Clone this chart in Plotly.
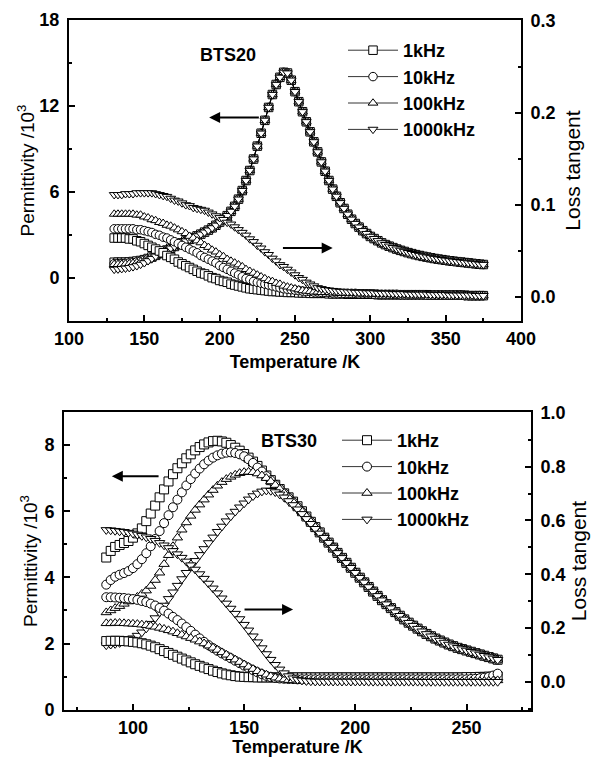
import plotly.graph_objects as go

# ---------------- BTS20 (top panel) ----------------
T_top = [130, 132.5, 135, 137.5, 140, 142.5, 145, 147.5, 150, 152.5,
         155, 157.5, 160, 162.5, 165, 167.5, 170, 172.5, 175, 177.5,
         180, 182.5, 185, 187.5, 190, 192.5, 195, 197.5, 200, 202.5,
         205, 207.5, 210, 212.5, 215, 217.5, 220, 222.5, 225, 227.5,
         230, 232.5, 235, 237.5, 240, 242.5, 245, 247.5, 250, 252.5,
         255, 257.5, 260, 262.5, 265, 267.5, 270, 272.5, 275, 277.5,
         280, 282.5, 285, 287.5, 290, 292.5, 295, 297.5, 300, 302.5,
         305, 307.5, 310, 312.5, 315, 317.5, 320, 322.5, 325, 327.5,
         330, 332.5, 335, 337.5, 340, 342.5, 345, 347.5, 350, 352.5,
         355, 357.5, 360, 362.5, 365, 367.5, 370, 372.5, 375]

# permittivity (10^3), low-temperature parts (130-157.5 K) per frequency
eps20_1k_low = [1.10, 1.10, 1.10, 1.10, 1.12, 1.15, 1.18, 1.22, 1.28, 1.36, 1.46, 1.58]
eps20_10k_low = [1.00, 1.00, 1.00, 1.02, 1.05, 1.08, 1.12, 1.17, 1.24, 1.33, 1.44, 1.57]
eps20_100k_low = [0.95, 0.95, 0.96, 0.98, 1.00, 1.03, 1.07, 1.13, 1.20, 1.30, 1.42, 1.56]
eps20_1000k_low = [0.60, 0.62, 0.65, 0.68, 0.72, 0.78, 0.85, 0.95, 1.06, 1.20, 1.36, 1.52]
# common part (160-375 K), all frequencies coincide
eps20_common = [1.70, 1.82, 1.95, 2.08, 2.20, 2.33, 2.45, 2.58,
                2.70, 2.82, 2.94, 3.06, 3.20, 3.34, 3.50, 3.68, 3.90, 4.10,
                4.35, 4.65, 5.00, 5.50, 6.10, 6.80, 7.50, 8.30, 9.20, 10.1,
                11.0, 11.9, 12.8, 13.5, 14.0, 14.35, 14.3, 13.8, 13.0, 12.3,
                11.6, 10.9, 10.2, 9.5, 8.8, 8.1, 7.45, 6.8, 6.2, 5.7,
                5.25, 4.85, 4.45, 4.10, 3.80, 3.55, 3.30, 3.10, 2.90, 2.75,
                2.60, 2.45, 2.33, 2.22, 2.12, 2.02, 1.93, 1.85, 1.77, 1.70,
                1.63, 1.57, 1.51, 1.46, 1.41, 1.36, 1.32, 1.28, 1.24, 1.20,
                1.17, 1.14, 1.11, 1.08, 1.05, 1.02, 0.99, 0.96, 0.94]

# loss tangent
tan20_1k = [0.064, 0.064, 0.064, 0.064, 0.063, 0.063, 0.061, 0.060, 0.058, 0.056,
            0.054, 0.052, 0.050, 0.048, 0.045, 0.043, 0.041, 0.038, 0.036, 0.034,
            0.032, 0.030, 0.028, 0.026, 0.025, 0.023, 0.021, 0.020, 0.018, 0.017,
            0.016, 0.014, 0.013, 0.012, 0.011, 0.010, 0.009, 0.0085, 0.008, 0.0075,
            0.007, 0.0065, 0.006, 0.006, 0.0055, 0.0055, 0.005, 0.005, 0.005, 0.0045,
            0.0045, 0.0045, 0.004, 0.004, 0.004, 0.004, 0.004, 0.0035, 0.0035, 0.0035,
            0.0035, 0.0035, 0.003, 0.003, 0.003, 0.003, 0.003, 0.003, 0.003, 0.003,
            0.0025, 0.0025, 0.0025, 0.0025, 0.0025, 0.0025, 0.0025, 0.0025, 0.0025, 0.0025,
            0.0025, 0.0025, 0.0025, 0.0025, 0.002, 0.002, 0.002, 0.002, 0.002, 0.002,
            0.002, 0.002, 0.002, 0.002, 0.0015, 0.0015, 0.0015, 0.0015, 0.0015]
tan20_10k = [0.074, 0.074, 0.074, 0.074, 0.074, 0.074, 0.073, 0.073, 0.072, 0.071,
             0.070, 0.068, 0.067, 0.065, 0.064, 0.062, 0.060, 0.058, 0.056, 0.054,
             0.052, 0.050, 0.048, 0.045, 0.043, 0.041, 0.039, 0.037, 0.034, 0.032,
             0.030, 0.028, 0.026, 0.024, 0.022, 0.020, 0.019, 0.017, 0.016, 0.015,
             0.014, 0.013, 0.012, 0.011, 0.010, 0.009, 0.0085, 0.008, 0.0075, 0.007,
             0.0065, 0.006, 0.006, 0.0055, 0.0055, 0.005, 0.005, 0.005, 0.0045, 0.0045,
             0.004, 0.004, 0.004, 0.004, 0.004, 0.0035, 0.0035, 0.0035, 0.0035, 0.003,
             0.003, 0.003, 0.003, 0.003, 0.003, 0.003, 0.0025, 0.0025, 0.0025, 0.0025,
             0.0025, 0.0025, 0.0025, 0.002, 0.002, 0.002, 0.002, 0.002, 0.002, 0.002,
             0.002, 0.002, 0.002, 0.0015, 0.0015, 0.0015, 0.0015, 0.0015, 0.0015]
tan20_100k = [0.090, 0.090, 0.090, 0.090, 0.090, 0.090, 0.089, 0.089, 0.087, 0.086,
              0.084, 0.083, 0.081, 0.080, 0.078, 0.077, 0.075, 0.073, 0.071, 0.069,
              0.066, 0.064, 0.061, 0.059, 0.056, 0.054, 0.051, 0.049, 0.046, 0.044,
              0.041, 0.039, 0.037, 0.035, 0.033, 0.030, 0.028, 0.026, 0.024, 0.022,
              0.020, 0.018, 0.017, 0.015, 0.014, 0.012, 0.011, 0.010, 0.009, 0.008,
              0.007, 0.0065, 0.006, 0.0055, 0.0055, 0.005, 0.005, 0.005, 0.0045, 0.0045,
              0.004, 0.004, 0.004, 0.004, 0.004, 0.0035, 0.0035, 0.0035, 0.0035, 0.003,
              0.003, 0.003, 0.003, 0.003, 0.003, 0.003, 0.0025, 0.0025, 0.0025, 0.0025,
              0.0025, 0.0025, 0.0025, 0.002, 0.002, 0.002, 0.002, 0.002, 0.002, 0.002,
              0.002, 0.002, 0.002, 0.0015, 0.0015, 0.0015, 0.0015, 0.0015, 0.0015]
tan20_1000k = [0.111, 0.111, 0.111, 0.112, 0.112, 0.112, 0.113, 0.113, 0.113, 0.113,
               0.113, 0.112, 0.111, 0.110, 0.109, 0.107, 0.105, 0.104, 0.102, 0.100,
               0.099, 0.097, 0.096, 0.095, 0.094, 0.092, 0.090, 0.088, 0.086, 0.084,
               0.081, 0.079, 0.076, 0.073, 0.070, 0.067, 0.063, 0.060, 0.056, 0.053,
               0.049, 0.046, 0.042, 0.039, 0.035, 0.033, 0.030, 0.027, 0.024, 0.021,
               0.019, 0.016, 0.014, 0.012, 0.010, 0.009, 0.008, 0.0075, 0.007, 0.0065,
               0.006, 0.006, 0.0055, 0.0055, 0.005, 0.005, 0.005, 0.0045, 0.0045, 0.0045,
               0.004, 0.004, 0.004, 0.004, 0.0035, 0.0035, 0.0035, 0.0035, 0.003, 0.003,
               0.003, 0.003, 0.003, 0.003, 0.0025, 0.0025, 0.0025, 0.0025, 0.0025, 0.002,
               0.002, 0.002, 0.002, 0.002, 0.002, 0.002, 0.0015, 0.0015, 0.0015]

# ---------------- BTS30 (bottom panel) ----------------
T_bot = [88, 90, 92, 94, 96, 98, 100, 102, 104, 106,
         108, 110, 112, 114, 116, 118, 120, 122, 124, 126,
         128, 130, 132, 134, 136, 138, 140, 142, 144, 146,
         148, 150, 152, 154, 156, 158, 160, 162, 164, 166,
         168, 170, 172, 174, 176, 178, 180, 182, 184, 186,
         188, 190, 192, 194, 196, 198, 200, 202, 204, 206,
         208, 210, 212, 214, 216, 218, 220, 222, 224, 226,
         228, 230, 232, 234, 236, 238, 240, 242, 244, 246,
         248, 250, 252, 254, 256, 258, 260, 262, 264]

eps30_1k_low = [4.60, 4.80, 4.92, 4.98, 5.04, 5.10, 5.20, 5.33, 5.48, 5.70,
                5.93, 6.17, 6.42, 6.66, 6.90, 7.12, 7.30, 7.45, 7.60, 7.72,
                7.84, 7.94, 8.02, 8.08, 8.12, 8.13, 8.11, 8.07, 8.00, 7.92,
                7.83, 7.73, 7.62, 7.50, 7.37, 7.23, 7.08, 6.94, 6.80, 6.67,
                6.54, 6.42, 6.29, 6.15, 6.00, 5.84, 5.68, 5.52, 5.36]
eps30_10k_low = [3.78, 3.92, 4.02, 4.08, 4.13, 4.19, 4.28, 4.40, 4.55, 4.73,
                 4.94, 5.16, 5.40, 5.64, 5.88, 6.12, 6.35, 6.57, 6.78, 6.97,
                 7.14, 7.29, 7.42, 7.53, 7.62, 7.69, 7.74, 7.77, 7.78, 7.76,
                 7.72, 7.66, 7.57, 7.46, 7.32, 7.20, 7.06, 6.93, 6.80, 6.67,
                 6.54, 6.41, 6.28, 6.13, 5.98, 5.83, 5.67, 5.51, 5.36]
eps30_100k_low = [2.94, 3.00, 3.07, 3.13, 3.20, 3.27, 3.33, 3.41, 3.50, 3.60,
                  3.74, 3.92, 4.14, 4.40, 4.67, 4.94, 5.20, 5.44, 5.66, 5.86,
                  6.04, 6.20, 6.35, 6.50, 6.64, 6.77, 6.88, 6.97, 7.04, 7.10,
                  7.15, 7.18, 7.19, 7.18, 7.14, 7.08, 7.00, 6.90, 6.79, 6.67,
                  6.55, 6.42, 6.29, 6.15, 6.00, 5.84, 5.68, 5.52, 5.36]
eps30_1000k_low = [1.95, 1.97, 1.99, 2.02, 2.06, 2.11, 2.16, 2.24, 2.34, 2.46,
                   2.60, 2.77, 2.95, 3.15, 3.35, 3.55, 3.75, 3.95, 4.14, 4.33,
                   4.50, 4.68, 4.86, 5.04, 5.21, 5.38, 5.54, 5.70, 5.85, 5.99,
                   6.12, 6.24, 6.36, 6.46, 6.54, 6.60, 6.63, 6.62, 6.58, 6.51,
                   6.42, 6.31, 6.19, 6.06, 5.92, 5.77, 5.62, 5.47, 5.33]
eps30_common = [5.20, 5.05, 4.90, 4.74, 4.59, 4.44, 4.29, 4.14, 3.99, 3.85,
                3.71, 3.57, 3.44, 3.31, 3.19, 3.07, 2.95, 2.84, 2.73, 2.63,
                2.54, 2.45, 2.37, 2.29, 2.22, 2.15, 2.09, 2.03, 1.97, 1.92,
                1.87, 1.83, 1.79, 1.75, 1.71, 1.67, 1.63, 1.59, 1.55, 1.51]

tan30_1k = [0.152, 0.153, 0.153, 0.153, 0.152, 0.151, 0.149, 0.147, 0.144, 0.140,
            0.135, 0.129, 0.122, 0.115, 0.108, 0.101, 0.094, 0.087, 0.080, 0.073,
            0.066, 0.060, 0.054, 0.048, 0.042, 0.037, 0.032, 0.028, 0.025, 0.022,
            0.020, 0.019, 0.018, 0.018, 0.017, 0.017, 0.017, 0.017, 0.017, 0.017,
            0.017, 0.017, 0.017, 0.017, 0.017, 0.017, 0.017,
            0.017, 0.017, 0.017, 0.017, 0.017, 0.017, 0.017, 0.017, 0.017, 0.017,
            0.017, 0.017, 0.017, 0.017, 0.017, 0.017, 0.017, 0.017, 0.017, 0.017,
            0.017, 0.017, 0.017, 0.017, 0.017, 0.017, 0.017, 0.017, 0.017, 0.017,
            0.017, 0.017, 0.017, 0.017, 0.018, 0.018, 0.018, 0.019, 0.019, 0.020,
            0.020, 0.021]
tan30_10k = [0.315, 0.315, 0.314, 0.313, 0.312, 0.310, 0.308, 0.305, 0.301, 0.297,
             0.291, 0.284, 0.275, 0.265, 0.254, 0.242, 0.230, 0.217, 0.204, 0.190,
             0.176, 0.162, 0.149, 0.137, 0.126, 0.116, 0.106, 0.097, 0.088, 0.079,
             0.070, 0.061, 0.052, 0.044, 0.036, 0.029, 0.023, 0.018, 0.015, 0.013,
             0.012, 0.011, 0.011, 0.010, 0.010, 0.010, 0.010,
             0.010, 0.010, 0.010, 0.010, 0.010, 0.010, 0.010, 0.010, 0.010, 0.010,
             0.010, 0.010, 0.010, 0.010, 0.010, 0.010, 0.010, 0.010, 0.010, 0.010,
             0.010, 0.010, 0.010, 0.010, 0.010, 0.010, 0.010, 0.010, 0.010, 0.010,
             0.010, 0.010, 0.010, 0.010, 0.010, 0.011, 0.012, 0.014, 0.016, 0.019,
             0.024, 0.031]
tan30_100k = [0.218, 0.218, 0.219, 0.219, 0.218, 0.217, 0.216, 0.215, 0.213, 0.211,
              0.208, 0.205, 0.201, 0.197, 0.192, 0.187, 0.181, 0.175, 0.169, 0.163,
              0.157, 0.150, 0.143, 0.135, 0.127, 0.119, 0.110, 0.101, 0.092, 0.083,
              0.074, 0.065, 0.056, 0.048, 0.040, 0.033, 0.027, 0.021, 0.016, 0.012,
              0.009, 0.007, 0.006, 0.005, 0.005, 0.004, 0.004,
              0.004, 0.004, 0.004, 0.004, 0.004, 0.004, 0.004, 0.004, 0.004, 0.004,
              0.004, 0.004, 0.004, 0.004, 0.0035, 0.0035, 0.0035, 0.0035, 0.0035, 0.0035,
              0.003, 0.003, 0.003, 0.003, 0.003, 0.003, 0.003, 0.003, 0.003, 0.003,
              0.003, 0.003, 0.003, 0.003, 0.003, 0.003, 0.003, 0.003, 0.0035, 0.004,
              0.005, 0.006]
tan30_1000k = [0.565, 0.564, 0.562, 0.560, 0.558, 0.555, 0.552, 0.548, 0.543, 0.538,
               0.532, 0.525, 0.517, 0.508, 0.498, 0.487, 0.475, 0.462, 0.448, 0.434,
               0.418, 0.401, 0.384, 0.366, 0.348, 0.330, 0.311, 0.292, 0.273, 0.254,
               0.234, 0.213, 0.192, 0.170, 0.148, 0.126, 0.104, 0.083, 0.064, 0.047,
               0.033, 0.022, 0.014, 0.009, 0.006, 0.004, 0.003,
               0.002, 0.002, 0.002, 0.002, 0.002, 0.002, 0.002, 0.002, 0.002, 0.002,
               0.002, 0.002, 0.0015, 0.0015, 0.0015, 0.0015, 0.0015, 0.0015, 0.0015, 0.0015,
               0.0015, 0.0015, 0.0015, 0.0015, 0.001, 0.001, 0.001, 0.001, 0.001, 0.001,
               0.001, 0.001, 0.001, 0.001, 0.001, 0.001, 0.001, 0.001, 0.001, 0.001,
               0.001, 0.001]

freq_labels = ["1kHz", "10kHz", "100kHz", "1000kHz"]
symbols = ["square", "circle", "triangle-up", "triangle-down"]

eps20 = [eps20_1k_low + eps20_common, eps20_10k_low + eps20_common,
         eps20_100k_low + eps20_common, eps20_1000k_low + eps20_common]
tan20 = [tan20_1k, tan20_10k, tan20_100k, tan20_1000k]
eps30 = [eps30_1k_low + eps30_common, eps30_10k_low + eps30_common,
         eps30_100k_low + eps30_common, eps30_1000k_low + eps30_common]
tan30 = [tan30_1k, tan30_10k, tan30_100k, tan30_1000k]

for s in eps20 + tan20:
    assert len(s) == len(T_top), len(s)
for s in eps30 + tan30:
    assert len(s) == len(T_bot), len(s)

W, H = 592, 757
FONT = "Liberation Sans, Arial, sans-serif"

fig = go.Figure()


def add(x, y, sym, name, xa, ya, size, legend, show):
    fig.add_trace(go.Scatter(
        x=x, y=y, mode="lines+markers", name=name,
        xaxis=xa, yaxis=ya, legend=legend, showlegend=show,
        legendgroup=legend + name,
        line=dict(color="black", width=0.8),
        marker=dict(symbol=sym, size=size, color="white",
                    line=dict(color="black", width=1)),
    ))


for i in range(4):
    add(T_top, tan20[i], symbols[i], freq_labels[i], "x", "y2", 8.5, "legend", False)
for i in range(4):
    add(T_top, eps20[i], symbols[i], freq_labels[i], "x", "y", 8.5, "legend", True)
for i in range(4):
    add(T_bot, tan30[i], symbols[i], freq_labels[i], "x2", "y4", 9, "legend2", False)
for i in range(4):
    add(T_bot, eps30[i], symbols[i], freq_labels[i], "x2", "y3", 9, "legend2", True)

tickfont = dict(family=FONT, size=18, color="black", weight="bold")
common = dict(showline=True, linecolor="black", linewidth=2, ticks="inside",
              ticklen=6, tickwidth=1.5, tickcolor="black", showgrid=False,
              zeroline=False, tickfont=tickfont, automargin=False)


def xax(domain, anchor, rng, standoff):
    return dict(domain=domain, anchor=anchor, range=rng, tick0=100, dtick=50,
                mirror=True, ticklabelstandoff=0,
                minor=dict(dtick=25, ticks="inside", ticklen=3, tickwidth=1.5,
                           tickcolor="black"),
                title=dict(text="Temperature /K", standoff=standoff,
                           font=dict(family=FONT, size=18, color="black", weight="bold")),
                **common)


def yax(domain, anchor, rng, dtick, mdtick, title, standoff, tsize, side="left",
        overlaying=None, fmt=None):
    d = dict(domain=domain, anchor=anchor, range=rng, tick0=0, dtick=dtick,
             side=side, ticklabelstandoff=4,
             minor=dict(dtick=mdtick, ticks="inside", ticklen=3, tickwidth=1.5,
                        tickcolor="black"),
             title=dict(text=title, standoff=standoff,
                        font=dict(family=FONT, size=tsize, color="black")),
             **common)
    if overlaying:
        d["overlaying"] = overlaying
    if fmt:
        d["tickformat"] = fmt
    return d


top_y = [1 - 321 / H, 1 - 20 / H]
bot_y = [1 - 710 / H, 1 - 412 / H]

fig.update_layout(
    width=W, height=H,
    margin=dict(l=0, r=0, t=0, b=0),
    paper_bgcolor="white", plot_bgcolor="white",
    font=dict(family=FONT, color="black"),
    xaxis=xax([69 / W, 521 / W], "y", [100, 400], 8),
    yaxis=yax(top_y, "x", [-3, 18], 6, 3, "Permittivity /10<sup>3</sup>", 0, 19),
    yaxis2=yax(top_y, "x", [-0.026, 0.3005], 0.1, 0.05, "Loss tangent", 11, 21,
               side="right", overlaying="y", fmt=".1f"),
    xaxis2=xax([64 / W, 531 / W], "y3", [69, 279], 14),
    yaxis3=yax(bot_y, "x2", [-0.01, 9], 2, 1, "Permittivity /10<sup>3</sup>", 2, 19),
    yaxis4=yax(bot_y, "x2", [-0.104, 1.003], 0.2, 0.1, "Loss tangent", 7, 21,
               side="right", overlaying="y3", fmt=".1f"),
    legend=dict(x=343 / W, y=1 - 32 / H, xanchor="left", yanchor="top",
                bgcolor="rgba(0,0,0,0)", itemwidth=50, traceorder="grouped",
                tracegroupgap=0,
                font=dict(family=FONT, size=18, color="black", weight="bold")),
    legend2=dict(x=337 / W, y=1 - 422 / H, xanchor="left", yanchor="top",
                 bgcolor="rgba(0,0,0,0)", itemwidth=50, traceorder="grouped",
                 tracegroupgap=0,
                 font=dict(family=FONT, size=18, color="black", weight="bold")),
)

annfont = dict(family=FONT, size=18, color="black", weight="bold")
fig.add_annotation(text="BTS20", x=228 / W, y=1 - 55 / H, xref="paper", yref="paper",
                   xanchor="center", yanchor="middle", showarrow=False, font=annfont)
fig.add_annotation(text="BTS30", x=289 / W, y=1 - 441 / H, xref="paper", yref="paper",
                   xanchor="center", yanchor="middle", showarrow=False, font=annfont)


def arrow(xref, yref, x_head, x_tail, y):
    fig.add_annotation(text="", x=x_head, y=y, ax=x_tail, ay=y, xref=xref, yref=yref,
                       axref=xref, ayref=yref, showarrow=True, arrowhead=2,
                       arrowsize=1.1, arrowwidth=2, arrowcolor="black")


arrow("x", "y", 193, 227, 11.2)
arrow("x", "y", 275, 241, 2.09)
arrow("x2", "y3", 90.5, 112.2, 7.06)
arrow("x2", "y3", 172, 149.5, 3.03)

fig.write_html("out.html",
               config={"displayModeBar": False},
               post_script="document.body.style.margin='0px';"
                           "document.body.style.overflow='hidden';")
